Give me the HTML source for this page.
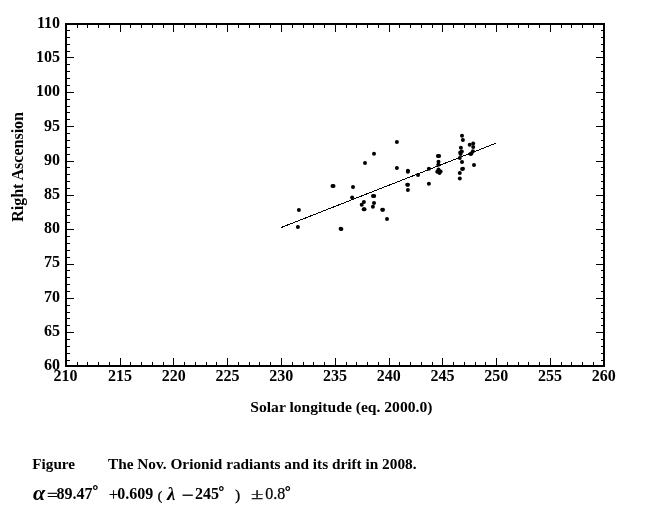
<!DOCTYPE html>
<html><head><meta charset="utf-8"><title>Nov. Orionid radiants</title>
<style>
html,body{margin:0;padding:0;background:#fff;}
body{width:649px;height:523px;position:relative;overflow:hidden;font-family:"Liberation Serif",serif;color:#000;}
.t{position:absolute;white-space:pre;font-weight:bold;font-size:16px;line-height:16px;}
.yl{text-align:right;width:40px;}
.xl{text-align:center;width:40px;}
.n{font-weight:normal;}
.i{font-style:italic;font-weight:normal;}
</style></head><body>
<svg width="649" height="523" viewBox="0 0 649 523" style="position:absolute;left:0;top:0">
<g shape-rendering="crispEdges" fill="#000">
<rect x="65" y="23" width="540" height="2"/>
<rect x="65" y="365" width="540" height="2"/>
<rect x="65" y="23" width="2" height="344"/>
<rect x="603" y="23" width="2" height="344"/>
<rect x="77" y="25" width="1" height="3"/>
<rect x="77" y="362" width="1" height="3"/>
<rect x="87" y="25" width="1" height="3"/>
<rect x="87" y="362" width="1" height="3"/>
<rect x="98" y="25" width="1" height="3"/>
<rect x="98" y="362" width="1" height="3"/>
<rect x="109" y="25" width="1" height="3"/>
<rect x="109" y="362" width="1" height="3"/>
<rect x="120" y="25" width="1" height="7"/>
<rect x="120" y="358" width="1" height="7"/>
<rect x="130" y="25" width="1" height="3"/>
<rect x="130" y="362" width="1" height="3"/>
<rect x="141" y="25" width="1" height="3"/>
<rect x="141" y="362" width="1" height="3"/>
<rect x="152" y="25" width="1" height="3"/>
<rect x="152" y="362" width="1" height="3"/>
<rect x="163" y="25" width="1" height="3"/>
<rect x="163" y="362" width="1" height="3"/>
<rect x="173" y="25" width="1" height="7"/>
<rect x="173" y="358" width="1" height="7"/>
<rect x="184" y="25" width="1" height="3"/>
<rect x="184" y="362" width="1" height="3"/>
<rect x="195" y="25" width="1" height="3"/>
<rect x="195" y="362" width="1" height="3"/>
<rect x="206" y="25" width="1" height="3"/>
<rect x="206" y="362" width="1" height="3"/>
<rect x="216" y="25" width="1" height="3"/>
<rect x="216" y="362" width="1" height="3"/>
<rect x="227" y="25" width="1" height="7"/>
<rect x="227" y="358" width="1" height="7"/>
<rect x="238" y="25" width="1" height="3"/>
<rect x="238" y="362" width="1" height="3"/>
<rect x="249" y="25" width="1" height="3"/>
<rect x="249" y="362" width="1" height="3"/>
<rect x="259" y="25" width="1" height="3"/>
<rect x="259" y="362" width="1" height="3"/>
<rect x="270" y="25" width="1" height="3"/>
<rect x="270" y="362" width="1" height="3"/>
<rect x="281" y="25" width="1" height="7"/>
<rect x="281" y="358" width="1" height="7"/>
<rect x="292" y="25" width="1" height="3"/>
<rect x="292" y="362" width="1" height="3"/>
<rect x="303" y="25" width="1" height="3"/>
<rect x="303" y="362" width="1" height="3"/>
<rect x="313" y="25" width="1" height="3"/>
<rect x="313" y="362" width="1" height="3"/>
<rect x="324" y="25" width="1" height="3"/>
<rect x="324" y="362" width="1" height="3"/>
<rect x="335" y="25" width="1" height="7"/>
<rect x="335" y="358" width="1" height="7"/>
<rect x="346" y="25" width="1" height="3"/>
<rect x="346" y="362" width="1" height="3"/>
<rect x="356" y="25" width="1" height="3"/>
<rect x="356" y="362" width="1" height="3"/>
<rect x="367" y="25" width="1" height="3"/>
<rect x="367" y="362" width="1" height="3"/>
<rect x="378" y="25" width="1" height="3"/>
<rect x="378" y="362" width="1" height="3"/>
<rect x="389" y="25" width="1" height="7"/>
<rect x="389" y="358" width="1" height="7"/>
<rect x="399" y="25" width="1" height="3"/>
<rect x="399" y="362" width="1" height="3"/>
<rect x="410" y="25" width="1" height="3"/>
<rect x="410" y="362" width="1" height="3"/>
<rect x="421" y="25" width="1" height="3"/>
<rect x="421" y="362" width="1" height="3"/>
<rect x="432" y="25" width="1" height="3"/>
<rect x="432" y="362" width="1" height="3"/>
<rect x="442" y="25" width="1" height="7"/>
<rect x="442" y="358" width="1" height="7"/>
<rect x="453" y="25" width="1" height="3"/>
<rect x="453" y="362" width="1" height="3"/>
<rect x="464" y="25" width="1" height="3"/>
<rect x="464" y="362" width="1" height="3"/>
<rect x="475" y="25" width="1" height="3"/>
<rect x="475" y="362" width="1" height="3"/>
<rect x="485" y="25" width="1" height="3"/>
<rect x="485" y="362" width="1" height="3"/>
<rect x="496" y="25" width="1" height="7"/>
<rect x="496" y="358" width="1" height="7"/>
<rect x="507" y="25" width="1" height="3"/>
<rect x="507" y="362" width="1" height="3"/>
<rect x="518" y="25" width="1" height="3"/>
<rect x="518" y="362" width="1" height="3"/>
<rect x="528" y="25" width="1" height="3"/>
<rect x="528" y="362" width="1" height="3"/>
<rect x="539" y="25" width="1" height="3"/>
<rect x="539" y="362" width="1" height="3"/>
<rect x="550" y="25" width="1" height="7"/>
<rect x="550" y="358" width="1" height="7"/>
<rect x="561" y="25" width="1" height="3"/>
<rect x="561" y="362" width="1" height="3"/>
<rect x="571" y="25" width="1" height="3"/>
<rect x="571" y="362" width="1" height="3"/>
<rect x="582" y="25" width="1" height="3"/>
<rect x="582" y="362" width="1" height="3"/>
<rect x="593" y="25" width="1" height="3"/>
<rect x="593" y="362" width="1" height="3"/>
<rect x="67" y="360" width="3" height="1"/>
<rect x="601" y="360" width="2" height="1"/>
<rect x="67" y="353" width="3" height="1"/>
<rect x="601" y="353" width="2" height="1"/>
<rect x="67" y="346" width="3" height="1"/>
<rect x="601" y="346" width="2" height="1"/>
<rect x="67" y="339" width="3" height="1"/>
<rect x="601" y="339" width="2" height="1"/>
<rect x="67" y="332" width="7" height="1"/>
<rect x="596" y="332" width="7" height="1"/>
<rect x="67" y="325" width="3" height="1"/>
<rect x="601" y="325" width="2" height="1"/>
<rect x="67" y="318" width="3" height="1"/>
<rect x="601" y="318" width="2" height="1"/>
<rect x="67" y="312" width="3" height="1"/>
<rect x="601" y="312" width="2" height="1"/>
<rect x="67" y="305" width="3" height="1"/>
<rect x="601" y="305" width="2" height="1"/>
<rect x="67" y="298" width="7" height="1"/>
<rect x="596" y="298" width="7" height="1"/>
<rect x="67" y="291" width="3" height="1"/>
<rect x="601" y="291" width="2" height="1"/>
<rect x="67" y="284" width="3" height="1"/>
<rect x="601" y="284" width="2" height="1"/>
<rect x="67" y="277" width="3" height="1"/>
<rect x="601" y="277" width="2" height="1"/>
<rect x="67" y="270" width="3" height="1"/>
<rect x="601" y="270" width="2" height="1"/>
<rect x="67" y="264" width="7" height="1"/>
<rect x="596" y="264" width="7" height="1"/>
<rect x="67" y="257" width="3" height="1"/>
<rect x="601" y="257" width="2" height="1"/>
<rect x="67" y="250" width="3" height="1"/>
<rect x="601" y="250" width="2" height="1"/>
<rect x="67" y="243" width="3" height="1"/>
<rect x="601" y="243" width="2" height="1"/>
<rect x="67" y="236" width="3" height="1"/>
<rect x="601" y="236" width="2" height="1"/>
<rect x="67" y="229" width="7" height="1"/>
<rect x="596" y="229" width="7" height="1"/>
<rect x="67" y="222" width="3" height="1"/>
<rect x="601" y="222" width="2" height="1"/>
<rect x="67" y="215" width="3" height="1"/>
<rect x="601" y="215" width="2" height="1"/>
<rect x="67" y="209" width="3" height="1"/>
<rect x="601" y="209" width="2" height="1"/>
<rect x="67" y="202" width="3" height="1"/>
<rect x="601" y="202" width="2" height="1"/>
<rect x="67" y="195" width="7" height="1"/>
<rect x="596" y="195" width="7" height="1"/>
<rect x="67" y="188" width="3" height="1"/>
<rect x="601" y="188" width="2" height="1"/>
<rect x="67" y="181" width="3" height="1"/>
<rect x="601" y="181" width="2" height="1"/>
<rect x="67" y="174" width="3" height="1"/>
<rect x="601" y="174" width="2" height="1"/>
<rect x="67" y="167" width="3" height="1"/>
<rect x="601" y="167" width="2" height="1"/>
<rect x="67" y="161" width="7" height="1"/>
<rect x="596" y="161" width="7" height="1"/>
<rect x="67" y="154" width="3" height="1"/>
<rect x="601" y="154" width="2" height="1"/>
<rect x="67" y="147" width="3" height="1"/>
<rect x="601" y="147" width="2" height="1"/>
<rect x="67" y="140" width="3" height="1"/>
<rect x="601" y="140" width="2" height="1"/>
<rect x="67" y="133" width="3" height="1"/>
<rect x="601" y="133" width="2" height="1"/>
<rect x="67" y="126" width="7" height="1"/>
<rect x="596" y="126" width="7" height="1"/>
<rect x="67" y="119" width="3" height="1"/>
<rect x="601" y="119" width="2" height="1"/>
<rect x="67" y="112" width="3" height="1"/>
<rect x="601" y="112" width="2" height="1"/>
<rect x="67" y="106" width="3" height="1"/>
<rect x="601" y="106" width="2" height="1"/>
<rect x="67" y="99" width="3" height="1"/>
<rect x="601" y="99" width="2" height="1"/>
<rect x="67" y="92" width="7" height="1"/>
<rect x="596" y="92" width="7" height="1"/>
<rect x="67" y="85" width="3" height="1"/>
<rect x="601" y="85" width="2" height="1"/>
<rect x="67" y="78" width="3" height="1"/>
<rect x="601" y="78" width="2" height="1"/>
<rect x="67" y="71" width="3" height="1"/>
<rect x="601" y="71" width="2" height="1"/>
<rect x="67" y="64" width="3" height="1"/>
<rect x="601" y="64" width="2" height="1"/>
<rect x="67" y="57" width="7" height="1"/>
<rect x="596" y="57" width="7" height="1"/>
<rect x="67" y="51" width="3" height="1"/>
<rect x="601" y="51" width="2" height="1"/>
<rect x="67" y="44" width="3" height="1"/>
<rect x="601" y="44" width="2" height="1"/>
<rect x="67" y="37" width="3" height="1"/>
<rect x="601" y="37" width="2" height="1"/>
<rect x="67" y="30" width="3" height="1"/>
<rect x="601" y="30" width="2" height="1"/>
</g>
<line x1="281" y1="227.6" x2="496" y2="143.2" stroke="#000" stroke-width="1" shape-rendering="crispEdges"/>
<circle cx="298.9" cy="210.0" r="2" fill="#000"/>
<circle cx="297.9" cy="226.9" r="2" fill="#000"/>
<circle cx="332.5" cy="185.9" r="2" fill="#000"/>
<circle cx="333.5" cy="185.9" r="2" fill="#000"/>
<circle cx="340.6" cy="228.8" r="2" fill="#000"/>
<circle cx="341.4" cy="228.9" r="2" fill="#000"/>
<circle cx="396.9" cy="142.1" r="2" fill="#000"/>
<circle cx="374.0" cy="153.8" r="2" fill="#000"/>
<circle cx="365.0" cy="162.9" r="2" fill="#000"/>
<circle cx="396.9" cy="167.9" r="2" fill="#000"/>
<circle cx="407.9" cy="170.7" r="2" fill="#000"/>
<circle cx="407.9" cy="171.8" r="2" fill="#000"/>
<circle cx="418.0" cy="175.0" r="2" fill="#000"/>
<circle cx="353.0" cy="186.9" r="2" fill="#000"/>
<circle cx="407.2" cy="184.7" r="2" fill="#000"/>
<circle cx="408.0" cy="184.8" r="2" fill="#000"/>
<circle cx="407.9" cy="190.0" r="2" fill="#000"/>
<circle cx="352.1" cy="197.4" r="2" fill="#000"/>
<circle cx="373.0" cy="195.9" r="2" fill="#000"/>
<circle cx="374.2" cy="195.9" r="2" fill="#000"/>
<circle cx="363.9" cy="202.1" r="2" fill="#000"/>
<circle cx="361.7" cy="204.8" r="2" fill="#000"/>
<circle cx="364.5" cy="209.2" r="2" fill="#000"/>
<circle cx="363.7" cy="209.2" r="2" fill="#000"/>
<circle cx="374.0" cy="203.0" r="2" fill="#000"/>
<circle cx="372.9" cy="206.7" r="2" fill="#000"/>
<circle cx="382.2" cy="209.8" r="2" fill="#000"/>
<circle cx="383.0" cy="209.8" r="2" fill="#000"/>
<circle cx="387.0" cy="219.1" r="2" fill="#000"/>
<circle cx="428.9" cy="168.8" r="2" fill="#000"/>
<circle cx="428.9" cy="183.8" r="2" fill="#000"/>
<circle cx="437.9" cy="155.9" r="2" fill="#000"/>
<circle cx="439.1" cy="155.9" r="2" fill="#000"/>
<circle cx="438.5" cy="161.8" r="2" fill="#000"/>
<circle cx="438.3" cy="164.8" r="2" fill="#000"/>
<circle cx="438.5" cy="169.5" r="2" fill="#000"/>
<circle cx="437.3" cy="171.7" r="2" fill="#000"/>
<circle cx="440.6" cy="171.4" r="2" fill="#000"/>
<circle cx="439.5" cy="173.0" r="2" fill="#000"/>
<circle cx="438.8" cy="171.0" r="2" fill="#000"/>
<circle cx="462.0" cy="135.8" r="2" fill="#000"/>
<circle cx="462.9" cy="140.0" r="2" fill="#000"/>
<circle cx="460.9" cy="147.7" r="2" fill="#000"/>
<circle cx="469.7" cy="144.7" r="2" fill="#000"/>
<circle cx="473.2" cy="143.6" r="2" fill="#000"/>
<circle cx="473.2" cy="147.0" r="2" fill="#000"/>
<circle cx="472.9" cy="151.2" r="2" fill="#000"/>
<circle cx="460.2" cy="152.6" r="2" fill="#000"/>
<circle cx="461.8" cy="151.6" r="2" fill="#000"/>
<circle cx="460.6" cy="154.0" r="2" fill="#000"/>
<circle cx="470.6" cy="153.9" r="2" fill="#000"/>
<circle cx="471.4" cy="153.4" r="2" fill="#000"/>
<circle cx="459.8" cy="158.0" r="2" fill="#000"/>
<circle cx="462.0" cy="162.0" r="2" fill="#000"/>
<circle cx="462.1" cy="168.9" r="2" fill="#000"/>
<circle cx="463.0" cy="168.8" r="2" fill="#000"/>
<circle cx="459.8" cy="172.9" r="2" fill="#000"/>
<circle cx="459.8" cy="178.4" r="2" fill="#000"/>
<circle cx="474.0" cy="164.9" r="2" fill="#000"/>
</svg>
<div class="t yl" style="left:20px;top:357.0px">60</div>
<div class="t yl" style="left:20px;top:323.0px">65</div>
<div class="t yl" style="left:20px;top:289.0px">70</div>
<div class="t yl" style="left:20px;top:254.0px">75</div>
<div class="t yl" style="left:20px;top:220.0px">80</div>
<div class="t yl" style="left:20px;top:186.0px">85</div>
<div class="t yl" style="left:20px;top:152.0px">90</div>
<div class="t yl" style="left:20px;top:118.0px">95</div>
<div class="t yl" style="left:20px;top:83.0px">100</div>
<div class="t yl" style="left:20px;top:49.0px">105</div>
<div class="t yl" style="left:20px;top:15.0px">110</div>
<div class="t xl" style="left:45.4px;top:368px">210</div>
<div class="t xl" style="left:99.9px;top:368px">215</div>
<div class="t xl" style="left:153.7px;top:368px">220</div>
<div class="t xl" style="left:207.4px;top:368px">225</div>
<div class="t xl" style="left:261.2px;top:368px">230</div>
<div class="t xl" style="left:315.0px;top:368px">235</div>
<div class="t xl" style="left:368.7px;top:368px">240</div>
<div class="t xl" style="left:422.5px;top:368px">245</div>
<div class="t xl" style="left:476.2px;top:368px">250</div>
<div class="t xl" style="left:530.0px;top:368px">255</div>
<div class="t xl" style="left:583.8px;top:368px">260</div>
<div class="t" id="xt" style="left:250.3px;top:398.9px;font-size:15.6px">Solar longitude (eq. 2000.0)</div>
<div class="t" id="yt" style="left:0;top:0;font-size:16px;transform-origin:0 0;transform:translate(10px,221.8px) rotate(-90deg)">Right Ascension</div>
<div class="t" id="c1" style="left:32.3px;top:455.8px;font-size:15.2px">Figure</div>
<div class="t" id="c2" style="left:108px;top:455.8px;font-size:15.3px">The Nov. Orionid radiants and its drift in 2008.</div>
<div class="t" id="f1" style="left:33.4px;top:482.85px;font-size:20px;line-height:20px;font-style:italic;transform-origin:0 50%;transform:scaleX(1.1);">α</div>
<div class="t" id="f2" style="left:46.8px;top:488.20px;font-size:16px;line-height:16px;font-weight:normal;-webkit-text-stroke:0.3px #000;transform-origin:0 50%;transform:scaleX(1.2);">=</div>
<div class="t" id="f3" style="left:56.6px;top:486.20px;font-size:16px;line-height:16px;">89.47</div>
<div class="t" id="f4" style="left:92.6px;top:484.48px;font-size:14px;line-height:14px;-webkit-text-stroke:0.4px #000;">°</div>
<div class="t" id="f5" style="left:109.1px;top:487.20px;font-size:16px;line-height:16px;font-weight:normal;-webkit-text-stroke:0.3px #000;">+</div>
<div class="t" id="f6" style="left:117.3px;top:486.20px;font-size:16px;line-height:16px;">0.609</div>
<div class="t" id="f7" style="left:157.8px;top:489.31px;font-size:13px;line-height:13px;-webkit-text-stroke:0.45px #000;font-weight:normal;">(</div>
<div class="t" id="f8" style="left:167px;top:483.69px;font-size:19px;line-height:19px;font-style:italic;">λ</div>
<div class="t" id="f9" style="left:181.8px;top:485.21px;font-size:21px;line-height:21px;font-weight:normal;-webkit-text-stroke:0.3px #000;">−</div>
<div class="t" id="f10" style="left:195.1px;top:486.20px;font-size:16px;line-height:16px;">245</div>
<div class="t" id="f11" style="left:218.6px;top:484.68px;font-size:14px;line-height:14px;-webkit-text-stroke:0.4px #000;">°</div>
<div class="t" id="f12" style="left:235.3px;top:487.86px;font-size:14.5px;line-height:14.5px;font-weight:normal;-webkit-text-stroke:0.4px #000;">)</div>
<div class="t" id="f13" style="left:250.9px;top:485.90px;font-size:16px;line-height:16px;font-weight:normal;-webkit-text-stroke:0.3px #000;transform-origin:0 85%;transform:scale(1.4,0.87);">±</div>
<div class="t" id="f14" style="left:265.3px;top:486.20px;font-size:16px;line-height:16px;font-weight:normal;-webkit-text-stroke:0.25px #000;">0.8</div>
<div class="t" id="f15" style="left:285.0px;top:484.88px;font-size:14px;line-height:14px;-webkit-text-stroke:0.4px #000;">°</div>
</body></html>
